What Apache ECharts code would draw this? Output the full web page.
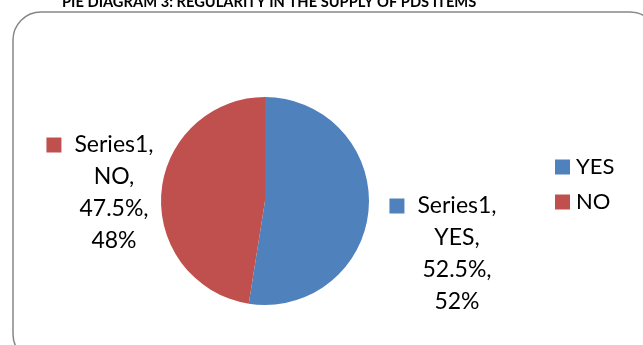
<!DOCTYPE html>
<html>
<head>
<meta charset="utf-8">
<script src="https://cdn.jsdelivr.net/npm/echarts@6/dist/echarts.min.js"></script>
<style>
  html, body { margin: 0; padding: 0; background: #fff; }
  #chart { width: 643px; height: 345px; }
</style>
</head>
<body>
<div id="chart"></div>
<script>
// Survey answers and their shares of respondents (%)
const seriesName = 'Series1';
const categories = ['YES', 'NO'];
const shares = [52.5, 47.5];
const roundedShareLabels = ['52%', '48%'];
const colors = ['#4F81BD', '#C0504D'];

const FONT = 'Lato';

const chart = echarts.init(document.getElementById('chart'));

// Rich-text pieces: a colour key on the first line, text lines centred beside it
const labelRich = {
  t: { fontFamily: FONT, fontSize: 23, color: '#000', lineHeight: 32 },
  gap: { width: 13, height: 15 },
  sp: { width: 28, height: 15 }
};
categories.forEach((c, i) => {
  labelRich['sq' + i] = { width: 15, height: 15, backgroundColor: colors[i] };
});

const data = categories.map((name, i) => ({
  name,
  value: shares[i],
  itemStyle: { color: colors[i] },
  label: {
    formatter: () =>
      `{sq${i}|}{gap|}{t|${seriesName},}\n` +
      `{sp|}{t|${name},}\n` +
      `{sp|}{t|${shares[i]}%,}\n` +
      `{sp|}{t|${roundedShareLabels[i]}}`
  }
}));

chart.setOption({
  animation: false,
  graphic: [
    {
      type: 'rect',
      shape: { x: 13, y: 12, width: 645, height: 350, r: 28 },
      style: { fill: 'none', stroke: '#868686', lineWidth: 1.5 },
      z: -1
    },
    {
      type: 'text',
      left: 62,
      top: -5,
      style: {
        text: 'PIE DIAGRAM 3: REGULARITY IN THE SUPPLY OF PDS ITEMS',
        font: 'bold 14.7px Lato',
        fill: '#000'
      }
    }
  ],
  legend: {
    orient: 'vertical',
    left: 555,
    top: 156,
    padding: 0,
    itemWidth: 15,
    itemHeight: 15,
    itemGap: 13,
    icon: 'rect',
    data: categories,
    textStyle: { fontFamily: FONT, fontSize: 22, color: '#000', padding: [0, 0, 0, 1] }
  },
  series: [{
    name: seriesName,
    type: 'pie',
    center: [265, 201],
    radius: 104,
    startAngle: 90,
    clockwise: true,
    data,
    itemStyle: { borderWidth: 0 },
    label: {
      show: true,
      position: 'outside',
      align: 'center',
      overflow: 'none',
      rich: labelRich
    },
    labelLine: { show: false },
    labelLayout: (params) => {
      const isYes = params.dataIndex === 0;
      return isYes
        ? { x: 443, y: 254, align: 'center', verticalAlign: 'middle' }
        : { x: 100, y: 193, align: 'center', verticalAlign: 'middle' };
    },
    emphasis: { disabled: true }
  }]
});
</script>
</body>
</html>
